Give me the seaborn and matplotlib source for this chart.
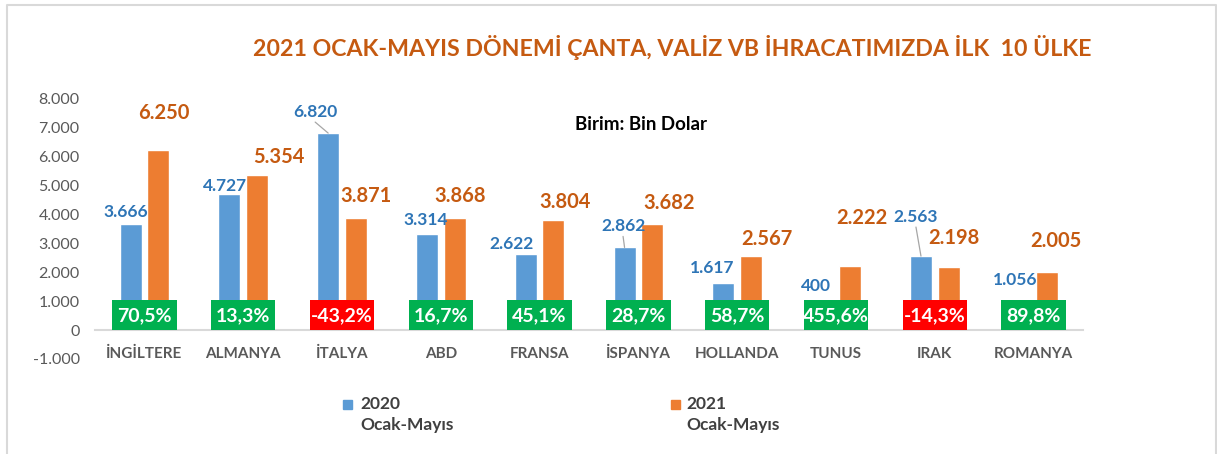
import matplotlib
matplotlib.use("Agg")
import matplotlib.pyplot as plt
import seaborn as sns
import pandas as pd
from matplotlib.patches import Rectangle
from matplotlib.lines import Line2D

# ---- data ----
countries = ["İNGİLTERE", "ALMANYA", "İTALYA", "ABD", "FRANSA",
             "İSPANYA", "HOLLANDA", "TUNUS", "IRAK", "ROMANYA"]
values_2020 = [3666, 4727, 6820, 3314, 2622, 2862, 1617, 400, 2563, 1056]
values_2021 = [6250, 5354, 3871, 3868, 3804, 3682, 2567, 2222, 2198, 2005]
changes = ["70,5%", "13,3%", "-43,2%", "16,7%", "45,1%",
           "28,7%", "58,7%", "455,6%", "-14,3%", "89,8%"]
series_years = ["2020", "2021"]
series_period = "Ocak-Mayıs"
series_names = [f"{y}\n{series_period}" for y in series_years]
yticks = [-1000, 0, 1000, 2000, 3000, 4000, 5000, 6000, 7000, 8000]

# ---- label layout (pixel offsets of data labels from bar tops) ----
blue_off = [(-4.5, 12), (-4.5, 8), (-13, 21), (-1.5, 14), (-14, 10),
            (-1.5, 21), (-11.5, 15), (-6, 33), (-5, 39), (-5, 19.5)]
orange_off = [(6, 37), (22, 18), (10, 22), (5, 22), (12, 18),
              (16.5, 21), (16, 17), (12.5, 48), (5, 28.5), (8.5, 31)]
leader = [False, False, True, False, False, True, False, False, True, False]

BLUE = "#5B9BD5"
ORANGE = "#ED7D31"
BLUE_TXT = "#2E75B6"
ORANGE_TXT = "#C55A11"
FONT = ["Lato", "DejaVu Sans"]
PX = 0.72  # points per pixel at dpi 100

sns.set_theme(style="white")
plt.rcParams["font.family"] = FONT

df = pd.DataFrame({
    "country": countries * 2,
    "value": values_2020 + values_2021,
    "series": [series_names[0]] * len(countries) + [series_names[1]] * len(countries),
})

W, H = 1217, 454
fig = plt.figure(figsize=(W / 100, H / 100), dpi=100)
ax = fig.add_axes([95 / W, 95 / H, (1083 - 95) / W, (359 - 99) / H])

sns.barplot(data=df, x="country", y="value", hue="series",
            palette=[BLUE, ORANGE], width=0.56, gap=0.2,
            saturation=1, ax=ax, legend=False)

ax.set_xlim(-0.5, len(countries) - 0.5)
ax.set_ylim(-1000, 8000)
ax.set_yticks(yticks)
ax.set_yticklabels([f"{v:,}".replace(",", ".") for v in yticks],
                   color="#595959", fontsize=11.5)
ax.tick_params(axis="y", length=0, pad=11)
ax.tick_params(axis="x", length=0, pad=12)
ax.set_xlabel("")
ax.set_ylabel("")
for s in ["left", "right", "top"]:
    ax.spines[s].set_visible(False)
ax.spines["bottom"].set_position(("data", 0))
ax.spines["bottom"].set_color("#D9D9D9")
ax.spines["bottom"].set_linewidth(1.5)
ax.set_xticks(range(len(countries)))
ax.set_xticklabels(countries, color="#595959", fontsize=11, fontweight="bold")

# data labels
blue_bars = ax.containers[0]
orange_bars = ax.containers[1]
for i, bar in enumerate(blue_bars):
    cx = bar.get_x() + bar.get_width() / 2
    top = bar.get_height()
    dx, dy = blue_off[i]
    lbl = f"{values_2020[i]:,}".replace(",", ".")
    ax.annotate(lbl, (cx, top), xytext=(dx * PX, dy * PX),
                textcoords="offset points", ha="center", va="center",
                color=BLUE_TXT, fontsize=12.5, fontweight="bold")
    if leader[i]:
        ax.annotate("", (cx, top), xytext=(dx * PX, (dy - 10) * PX),
                    textcoords="offset points",
                    arrowprops=dict(arrowstyle="-", color="#A6A6A6", lw=0.9,
                                    shrinkA=0, shrinkB=0))
for i, bar in enumerate(orange_bars):
    cx = bar.get_x() + bar.get_width() / 2
    top = bar.get_height()
    dx, dy = orange_off[i]
    lbl = f"{values_2021[i]:,}".replace(",", ".")
    ax.annotate(lbl, (cx, top), xytext=(dx * PX, dy * PX),
                textcoords="offset points", ha="center", va="center",
                color=ORANGE_TXT, fontsize=14.5, fontweight="bold")

# change boxes
for i, ch in enumerate(changes):
    col = "#FF0000" if ch.startswith("-") else "#00B050"
    ax.add_patch(Rectangle((i - 0.325, 0), 0.65, 1040, facecolor=col,
                           edgecolor="none", zorder=5))
    ax.text(i, 500, ch, ha="center", va="center", color="white",
            fontsize=14, fontweight="bold", zorder=6)

# legend (manual: square aligned with first line)
for (sq_x, txt_x), col, year in zip([(343, 360), (671, 686)], [BLUE, ORANGE], series_years):
    fig.add_artist(Rectangle((sq_x / W, 1 - 409 / H), 9 / W, 9 / H,
                             transform=fig.transFigure, color=col))
    fig.text(txt_x / W, 1 - 404 / H, year, ha="left", va="center",
             color="#404040", fontsize=12.5, fontweight="bold")
    fig.text(txt_x / W, 1 - 425 / H, series_period, ha="left", va="center",
             color="#404040", fontsize=12.5, fontweight="bold")

# title & unit
fig.text(672 / W, 1 - 48 / H,
         "2021 OCAK-MAYIS DÖNEMİ ÇANTA, VALİZ VB İHRACATIMIZDA İLK  10 ÜLKE",
         ha="center", va="center", color=ORANGE_TXT, fontsize=16.7, fontweight="bold")
fig.text(641 / W, 1 - 125 / H, "Birim: Bin Dolar", ha="center", va="center",
         color="black", fontsize=13.5, fontweight="bold")

# frame
fig.add_artist(Line2D([6.5 / W, 6.5 / W, 1216 / W, 1216 / W],
                      [0, 1 - 4.5 / H, 1 - 4.5 / H, 0],
                      transform=fig.transFigure, color="#D9D9D9", lw=1.5))

fig.savefig("out.png", dpi=100)
